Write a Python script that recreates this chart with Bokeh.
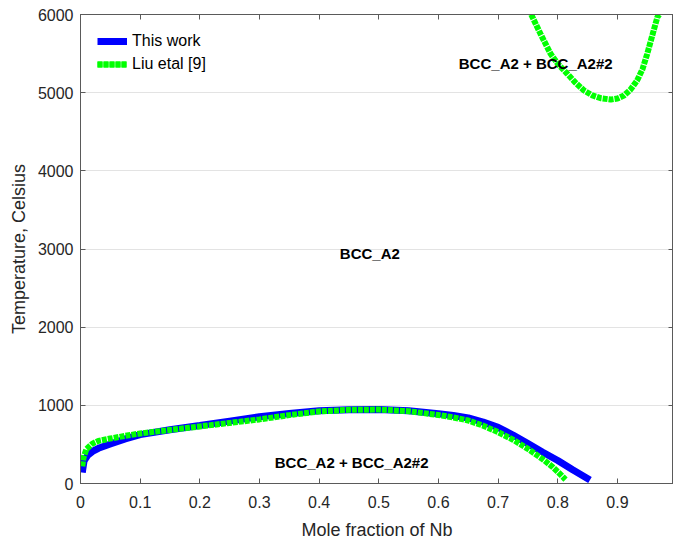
from bokeh.plotting import figure
from bokeh.models import (Range1d, LinearAxis, FixedTicker, Legend, LegendItem,
                          ColumnDataSource)
from bokeh.core.properties import value
from bokeh.embed import file_html
from bokeh.resources import INLINE

# ---------------- data ----------------
blue_x = [0.003, 0.006, 0.012, 0.02, 0.03, 0.05, 0.075, 0.1, 0.15, 0.2, 0.25,
          0.3, 0.35, 0.4, 0.45, 0.5, 0.55, 0.6, 0.625, 0.65, 0.675, 0.7,
          0.725, 0.75, 0.775, 0.8, 0.825, 0.854]
blue_t = [140, 290, 360, 410, 450, 505, 570, 625, 688, 742, 798,
          853, 895, 930, 945, 948, 930, 893, 870, 838, 785, 718,
          620, 510, 400, 294, 175, 45]

liu_low_x = [0.003, 0.005, 0.01, 0.02, 0.03, 0.05, 0.075, 0.1, 0.15, 0.2, 0.25,
             0.3, 0.35, 0.4, 0.45, 0.5, 0.55, 0.6, 0.625, 0.65, 0.675, 0.7,
             0.725, 0.75, 0.775, 0.79, 0.8, 0.813]
liu_low_t = [220, 330, 440, 510, 545, 575, 610, 640, 685, 730, 775,
             820, 875, 922, 942, 946, 925, 876, 845, 806, 740, 657,
             560, 443, 310, 220, 150, 50]

liu_high_x = [0.7555, 0.771, 0.788, 0.8, 0.816, 0.83, 0.844, 0.858, 0.872,
              0.889, 0.9, 0.911, 0.922, 0.933, 0.942, 0.95, 0.958, 0.967, 0.97]
liu_high_t = [6000, 5753, 5497, 5370, 5241, 5125, 5028, 4965, 4929,
              4912, 4925, 4963, 5040, 5155, 5300, 5497, 5720, 5966, 6000]

label_x = [0.485, 0.763, 0.4545]
label_t = [2946, 5373, 272]
label_text = ["BCC_A2", "BCC_A2 + BCC_A2#2", "BCC_A2 + BCC_A2#2"]

x_ticks = [0, 0.1, 0.2, 0.3, 0.4, 0.5, 0.6, 0.7, 0.8, 0.9, 1.0]
x_tick_labels = {0: "0", 0.1: "0.1", 0.2: "0.2", 0.3: "0.3", 0.4: "0.4",
                 0.5: "0.5", 0.6: "0.6", 0.7: "0.7", 0.8: "0.8", 0.9: "0.9",
                 1.0: "1"}
y_ticks = [0, 1000, 2000, 3000, 4000, 5000, 6000]

series_names = ["This work", "Liu etal [9]"]

# ---------------- figure ----------------
FONT = "Liberation Sans"
AXIS_COLOR = "#5a5a5a"
TEXT_COLOR = "#262626"

p = figure(width=673, height=542, output_backend="svg", toolbar_location=None,
           x_range=Range1d(0, 0.994), y_range=Range1d(0, 6000),
           min_border_left=80, min_border_right=0, min_border_top=14,
           min_border_bottom=59)
p.outline_line_color = AXIS_COLOR
p.background_fill_color = "white"
p.border_fill_color = "white"

p.xgrid.visible = False
p.ygrid.ticker = FixedTicker(ticks=y_ticks)
p.ygrid.grid_line_color = "#e3e3e3"
p.ygrid.grid_line_width = 1

def style_axis(ax, ticks, labels=True):
    ax.ticker = FixedTicker(ticks=ticks)
    ax.axis_line_color = AXIS_COLOR
    ax.axis_line_width = 1
    ax.major_tick_line_color = AXIS_COLOR
    ax.major_tick_in = 5
    ax.major_tick_out = 0
    ax.minor_tick_line_color = None
    if labels:
        ax.major_label_text_font = FONT
        ax.major_label_text_font_size = "16px"
        ax.major_label_text_color = TEXT_COLOR
    else:
        # tick marks only: labels are neither sized nor drawn
        ax.major_label_text_font_size = "0px"
        ax.major_label_text_color = None
        ax.major_label_text_alpha = 0
        ax.major_label_standoff = 0

xa = p.xaxis[0]
style_axis(xa, x_ticks)
xa.major_label_overrides = x_tick_labels
xa.major_label_standoff = 12
xa.axis_label = "Mole fraction of Nb"
xa.axis_label_text_font = FONT
xa.axis_label_text_font_size = "18px"
xa.axis_label_text_font_style = "normal"
xa.axis_label_text_color = TEXT_COLOR
xa.axis_label_standoff = 9

ya = p.yaxis[0]
style_axis(ya, y_ticks)
ya.major_label_standoff = 7
ya.axis_label = "Temperature, Celsius"
ya.axis_label_text_font = FONT
ya.axis_label_text_font_size = "18px"
ya.axis_label_text_font_style = "normal"
ya.axis_label_text_color = TEXT_COLOR
ya.axis_label_standoff = 6

top = LinearAxis()
style_axis(top, x_ticks, labels=False)
p.add_layout(top, "above")
right = LinearAxis()
style_axis(right, y_ticks, labels=False)
p.add_layout(right, "right")

# ---------------- curves ----------------
r_blue = p.line(blue_x, blue_t, line_color="#0000ff", line_width=7)
r_low = p.line(liu_low_x, liu_low_t, line_color="#00ff00", line_width=6,
               line_dash="5 1")
r_high = p.line(liu_high_x, liu_high_t, line_color="#00ff00", line_width=6,
                line_dash="5 1")

# ---------------- region labels ----------------
src = ColumnDataSource(dict(x=label_x, y=label_t, text=label_text))
p.text(x="x", y="y", text="text", source=src, text_align="center",
       text_baseline="middle", text_font=value(FONT), text_font_size="15px",
       text_font_style="bold", text_color="black")

# ---------------- legend ----------------
legend = Legend(items=[LegendItem(label=series_names[0], renderers=[r_blue]),
                       LegendItem(label=series_names[1], renderers=[r_low, r_high])],
                location="top_left")
legend.border_line_color = None
legend.background_fill_alpha = 0
legend.margin = 17
legend.padding = 10
legend.spacing = 3
legend.glyph_width = 30
legend.glyph_height = 20
legend.label_height = 20
legend.label_standoff = 5
legend.label_text_font = FONT
legend.label_text_font_size = "16px"
legend.label_text_color = "black"
p.add_layout(legend, "center")

open("out.html", "w").write(file_html(p, INLINE))
